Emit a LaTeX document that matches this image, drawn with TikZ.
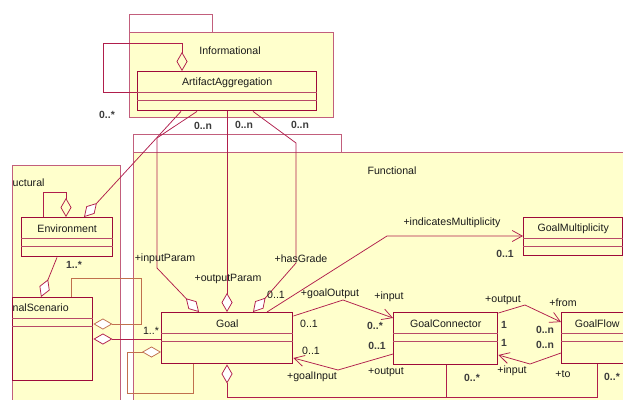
\documentclass[tikz,border=0pt]{standalone}
\usepackage{fontspec}
\setmainfont{Liberation Sans}
\usetikzlibrary{arrows.meta}

\definecolor{umlfill}{HTML}{FFFFCC}
\definecolor{clsline}{HTML}{9E0A3A}
\definecolor{compcol}{HTML}{B84A68}
\definecolor{pkgline}{HTML}{C25E7C}
\definecolor{connline}{HTML}{B01E4C}
\definecolor{loopline}{HTML}{C0704E}
\definecolor{textcol}{HTML}{1A1A1A}

\tikzset{
  pkgbody/.style={draw=pkgline, fill=umlfill, line width=0.8pt},
  pkgtab/.style={draw=pkgline, fill=white, line width=0.8pt},
  clsbox/.style={draw=clsline, fill=umlfill, line width=1.4pt, inner sep=0pt, rectangle},
  compline/.style={draw=compcol, line width=0.7pt},
  conn/.style={draw=connline, line width=0.75pt},
  selfconn/.style={draw=loopline, line width=0.75pt},
  agg/.style={-{Diamond[length=19pt,width=11pt,fill=white]}},
  aggopen/.style={-{Diamond[length=19pt,width=11pt,open]}},
  nav/.style={-{Straight Barb[length=10pt,width=11pt]}},
  txt/.style={font=\fontsize{10.6}{12}\selectfont, text=textcol, inner sep=0pt},
  mult/.style={font=\fontsize{10.4}{12}\selectfont\bfseries, text=textcol!85, inner sep=0pt}
}

% class box: name, x1, y1, x2, y2, title
\newcommand{\umlbox}[6]{%
  \pgfmathsetmacro\boxw{#4-#2}%
  \pgfmathsetmacro\boxh{#5-#3}%
  \node[clsbox, anchor=north west, minimum width=\boxw pt, minimum height=\boxh pt] (#1) at (#2,#3) {};
  \draw[compline] ([yshift=-21.5pt]#1.north west) -- ([yshift=-21.5pt]#1.north east);
  \draw[compline] ([yshift=-29pt]#1.north west) -- ([yshift=-29pt]#1.north east);
  \node[txt] (#1-title) at ([yshift=-11.5pt]#1.north) {#6};
}

\begin{document}
\begin{tikzpicture}[x=1pt, y=-1pt]
\useasboundingbox (0,0) rectangle (623,399);
\begin{scope}
\clip (0,0) rectangle (623,399);

% packages
\draw[pkgtab] (129,14) rectangle (212,32);
\draw[pkgbody] (129,32) rectangle (333,117);
\draw[pkgtab] (133,134) rectangle (341,152);
\draw[pkgbody] (133,152) rectangle (660,430);
\draw[pkgbody] (12,165) rectangle (120,430);

\node[txt] (infolabel) at (230,51) {Informational};
\node[txt] (funclabel) at (392,171) {Functional};
\node[txt, anchor=west] (structlabel) at (12.5,183) {uctural};

% class boxes (drawn first so the connectors can reference them)
\umlbox{aa}{137}{71}{316}{110}{ArtifactAggregation}
\umlbox{env}{21}{217}{112}{256}{Environment}
\umlbox{scen}{12}{297}{92}{380}{}
\node[txt, anchor=west] (scen-title) at (12.5,308) {nalScenario};
\umlbox{goal}{161}{312}{292}{363}{Goal}
\umlbox{gm}{523}{217}{622}{255}{GoalMultiplicity}
\umlbox{gc}{393}{312}{497}{364}{GoalConnector}
\umlbox{gf}{561}{312}{632}{363}{GoalFlow}

% connectors
\coordinate (junc) at (446,397);
\draw[conn, aggopen] (aa.west |- 0,92) -- (103,92) -- (103,43) -- (182,43) -- (182,0 |- aa.north);
\draw[conn, agg] (181,0 |- aa.south) -- (84,0 |- env.north);
\draw[conn, agg] (197,0 |- aa.south) -- (157,138) -- (157,268) -- (199,0 |- goal.north);
\draw[conn, agg] (227,0 |- aa.south) -- (227,0 |- goal.north);
\draw[conn, agg] (253,0 |- aa.south) -- (296,143) -- (296,263) -- (253,0 |- goal.north);

\draw[conn, aggopen] (43,0 |- env.north) -- (43,192) -- (66,192) -- (66,0 |- env.north);
\draw[conn, agg] (57,0 |- env.south) -- (41,0 |- scen.north);
\draw[selfconn, agg] (71,0 |- scen.north) -- (71,278) -- (141,278) -- (141,324) -- (scen.east |- 0,324);
\draw[conn, agg] (goal.west |- 0,339) -- (scen.east |- 0,339);
\draw[selfconn, agg] (193,0 |- goal.south) -- (193,393) -- (127,393) -- (127,352) -- (goal.west |- 0,352);

\draw[conn, nav] (267,0 |- goal.north) -- (387,236) -- (gm.west |- 0,236);
\draw[conn, nav] (goal.east |- 0,316) -- (343,300) -- (gc.west |- 0,318);
\draw[conn, nav] (gc.west |- 0,354) -- (338,370) -- (goal.east |- 0,358);
\draw[conn, nav] (gc.east |- 0,313) -- (525,305) -- (gf.west |- 0,322);
\draw[conn, nav] (gf.west |- 0,353) -- (530,364) -- (gc.east |- 0,355);

\draw[conn, agg] (597,0 |- gf.south) -- (597,397) -- (227,397) -- (227,0 |- goal.south);
\draw[conn] (junc) -- (446,0 |- gc.south);

% role names
\node[txt] (r1) at (165,259) {+inputParam};
\node[txt] (r2) at (228,279) {+outputParam};
\node[txt] (r3) at (301,259) {+hasGrade};
\node[txt] (r4) at (452,223) {+indicatesMultiplicity};
\node[txt] (r5) at (330,294) {+goalOutput};
\node[txt] (r6) at (389,297) {+input};
\node[txt] (r7) at (312,377) {+goalInput};
\node[txt] (r8) at (386,372) {+output};
\node[txt] (r9) at (503,300) {+output};
\node[txt] (r10) at (563,303) {+from};
\node[txt] (r11) at (512,371) {+input};
\node[txt] (r12) at (563,374) {+to};

% multiplicities
\node[mult] (m1) at (107,115) {0..*};
\node[mult] (m2) at (203,126) {0..n};
\node[mult] (m3) at (244,125) {0..n};
\node[mult] (m4) at (300,125) {0..n};
\node[mult] (m5) at (74,265) {1..*};
\node[txt] (m6) at (151,331) {1..*};
\node[txt] (m7) at (276,295) {0..1};
\node[mult] (m8) at (505,254) {0..1};
\node[txt] (m9) at (309,324) {0..1};
\node[mult] (m10) at (375,326) {0..*};
\node[txt] (m11) at (311,351) {0..1};
\node[mult] (m12) at (377,346) {0..1};
\node[mult] (m13) at (504,325) {1};
\node[mult] (m14) at (504,343) {1};
\node[mult] (m15) at (545,330) {0..n};
\node[mult] (m16) at (545,345) {0..n};
\node[mult] (m17) at (472,378) {0..*};
\node[mult] (m18) at (612,377) {0..*};
\end{scope}
\end{tikzpicture}
\end{document}
